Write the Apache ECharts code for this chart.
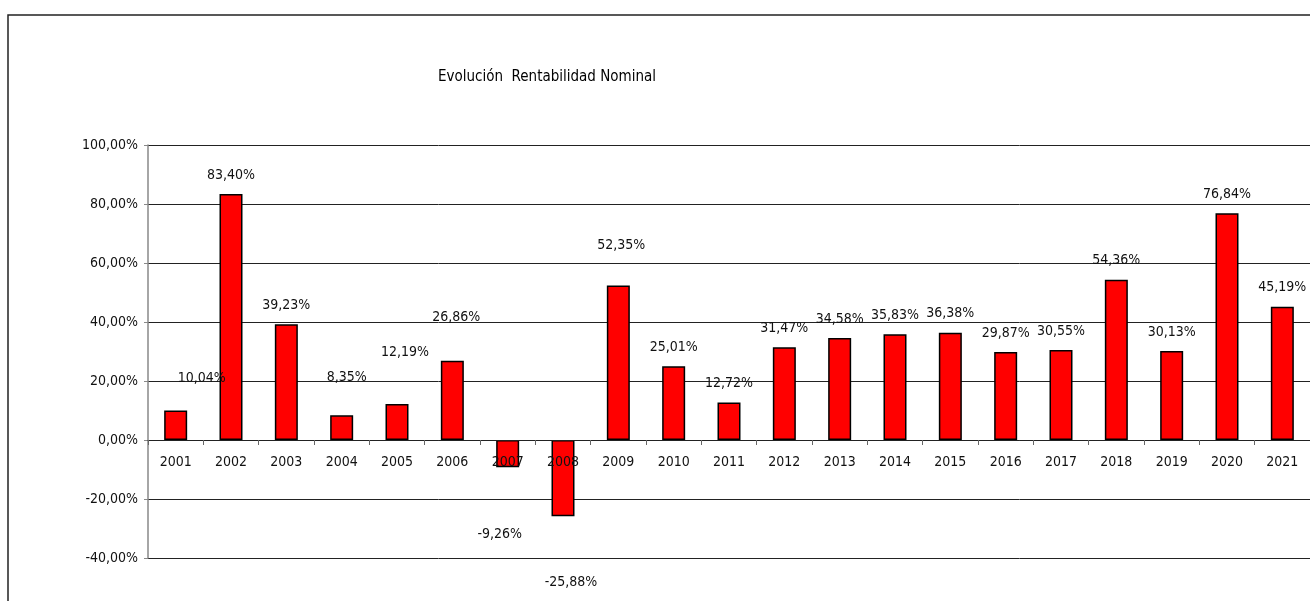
<!DOCTYPE html>
<html>
<head>
<meta charset="utf-8">
<script src="https://cdn.jsdelivr.net/npm/echarts@6/dist/echarts.min.js"></script>
<style>
html, body { margin: 0; padding: 0; background: #fff; }
#main { width: 1310px; height: 601px; }
</style>
</head>
<body>
<div id="main"></div>
<script>
// datos
var years = ['2001','2002','2003','2004','2005','2006','2007','2008','2009','2010','2011',
	'2012','2013','2014','2015','2016','2017','2018','2019','2020','2021'];
var rentabilidad = [10.04, 83.40, 39.23, 8.35, 12.19, 26.86, -9.26, -25.88, 52.35, 25.01, 12.72,
	31.47, 34.58, 35.83, 36.38, 29.87, 30.55, 54.36, 30.13, 76.84, 45.19];
var yTicks = [-40, -20, 0, 20, 40, 60, 80, 100];

// desplazamiento de etiquetas (como en el excel original)
var labelShift = [[26,-13],[0,0],[0,0],[5,-19],[8,-33],[4,-24],[-8,48],[8,47],[3,-21],[0,0],[0,0],
	[0,0],[0,0],[0,0],[0,0],[0,0],[0,0],[0,0],[0,0],[0,0],[0,0]];

var fontNarrow = "'DejaVu Sans Condensed', 'Liberation Sans Narrow', sans-serif";

function pct(v) {
	return v.toFixed(2).replace('.', ',') + '%';
}

var myChart = echarts.init(document.getElementById('main'));

var seriesData = rentabilidad.map(function(v, i){
	return {
		value: v,
		label: {
			position: v < 0 ? 'bottom' : 'top',
			offset: labelShift[i]
		}
	};
});

var option = {
	animation: false,
	title: {
		text: 'Evolución  Rentabilidad Nominal',
		left: 542,
		top: 65,
		textAlign: 'center',
		textStyle: {
			fontFamily: fontNarrow,
			fontSize: 15,
			fontWeight: 'normal',
			color: '#000'
		}
	},
	graphic: [{
		type: 'polyline',
		shape: { points: [[8, 601], [8, 15], [1310, 15]] },
		style: { stroke: '#222', lineWidth: 1.5, fill: null },
		silent: true
	}],
	grid: {
		left: 148,
		right: -14,
		top: 145,
		bottom: 43
	},
	xAxis: {
		type: 'category',
		data: years,
		offset: -118,
		axisLine: { onZero: false, lineStyle: { color: '#222', width: 1 } },
		axisTick: { show: true, length: 5, lineStyle: { color: '#666' } },
		axisLabel: {
			fontFamily: fontNarrow,
			fontSize: 14,
			color: '#111',
			margin: 15
		},
		z: 5
	},
	yAxis: {
		type: 'value',
		min: -40,
		max: 100,
		interval: 20,
		axisLine: { show: true, lineStyle: { color: '#888', width: 1.5 } },
		axisTick: { show: true, length: 4, lineStyle: { color: '#888' } },
		axisLabel: {
			fontFamily: fontNarrow,
			fontSize: 14,
			color: '#111',
			margin: 10,
			formatter: function(v){ return pct(v); }
		},
		splitLine: { lineStyle: { color: '#222', width: 1 } }
	},
	series: [{
		type: 'bar',
		data: seriesData,
		barWidth: 23,
		itemStyle: {
			color: '#ff0000',
			borderColor: '#000',
			borderWidth: 1.5
		},
		label: {
			show: true,
			distance: 12,
			fontFamily: fontNarrow,
			fontSize: 14,
			color: '#111',
			formatter: function(p){ return pct(p.value); }
		}
	}]
};

myChart.setOption(option);
window.onresize = myChart.resize;
</script>
</body>
</html>
